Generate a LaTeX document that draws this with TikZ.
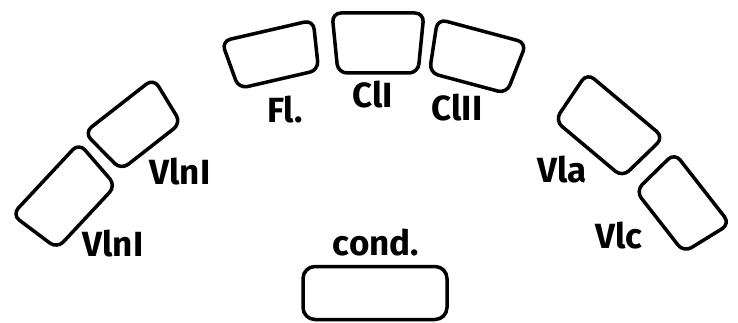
\documentclass[tikz,border=0pt]{standalone}
\usepackage{fontspec}
\setsansfont{Fira Sans}
\usepackage{tikz}
\usetikzlibrary{positioning}

\begin{document}
\begin{tikzpicture}[x=1pt, y=-1pt,
  seat/.style={draw, line width=3.5pt, line join=round, rounded corners=9pt},
  part/.style={font=\sffamily\bfseries\fontsize{35}{35}\selectfont, inner sep=0pt}]
\useasboundingbox (0,0) rectangle (738,323);

% seats in the arc, left to right (outer side a bit wider)
\foreach \px/\py/\ang/\w/\h in {66/198/47/98/56, 135/126/38/88/52, 273/55/13/94/50, 378/43/0/92/60, 475/57/-15/92/54, 607/127/-40/100/57, 681/205/-52/90/54}{
   \draw[seat, shift={(\px,\py)}, rotate=\ang] ({-\w/2},{-\h/2}) -- ({\w/2},{-\h/2}) -- ({\w/2-6},{\h/2}) -- ({-\w/2+6},{\h/2}) -- cycle;
}

% conductor
\node[draw, line width=3.5pt, rounded corners=12pt, minimum width=144pt, minimum height=53pt] (podium) at (375,293) {};

% labels
\node[part] (lvlnb) at (113,244) {VlnI};
\node[part] (lvlna) at (180,172) {VlnI};
\node[part] (lfl) at (285,110) {Fl.};
\node[part] (lcla) at (373,95) {ClI};
\node[part] (lclb) at (457,108) {ClII};
\node[part] (lvla) at (562,170) {Vla};
\node[part] (lvlc) at (619,236) {Vlc};
\node[part] (lcond) at (376,243) {cond.};
\end{tikzpicture}
\end{document}
